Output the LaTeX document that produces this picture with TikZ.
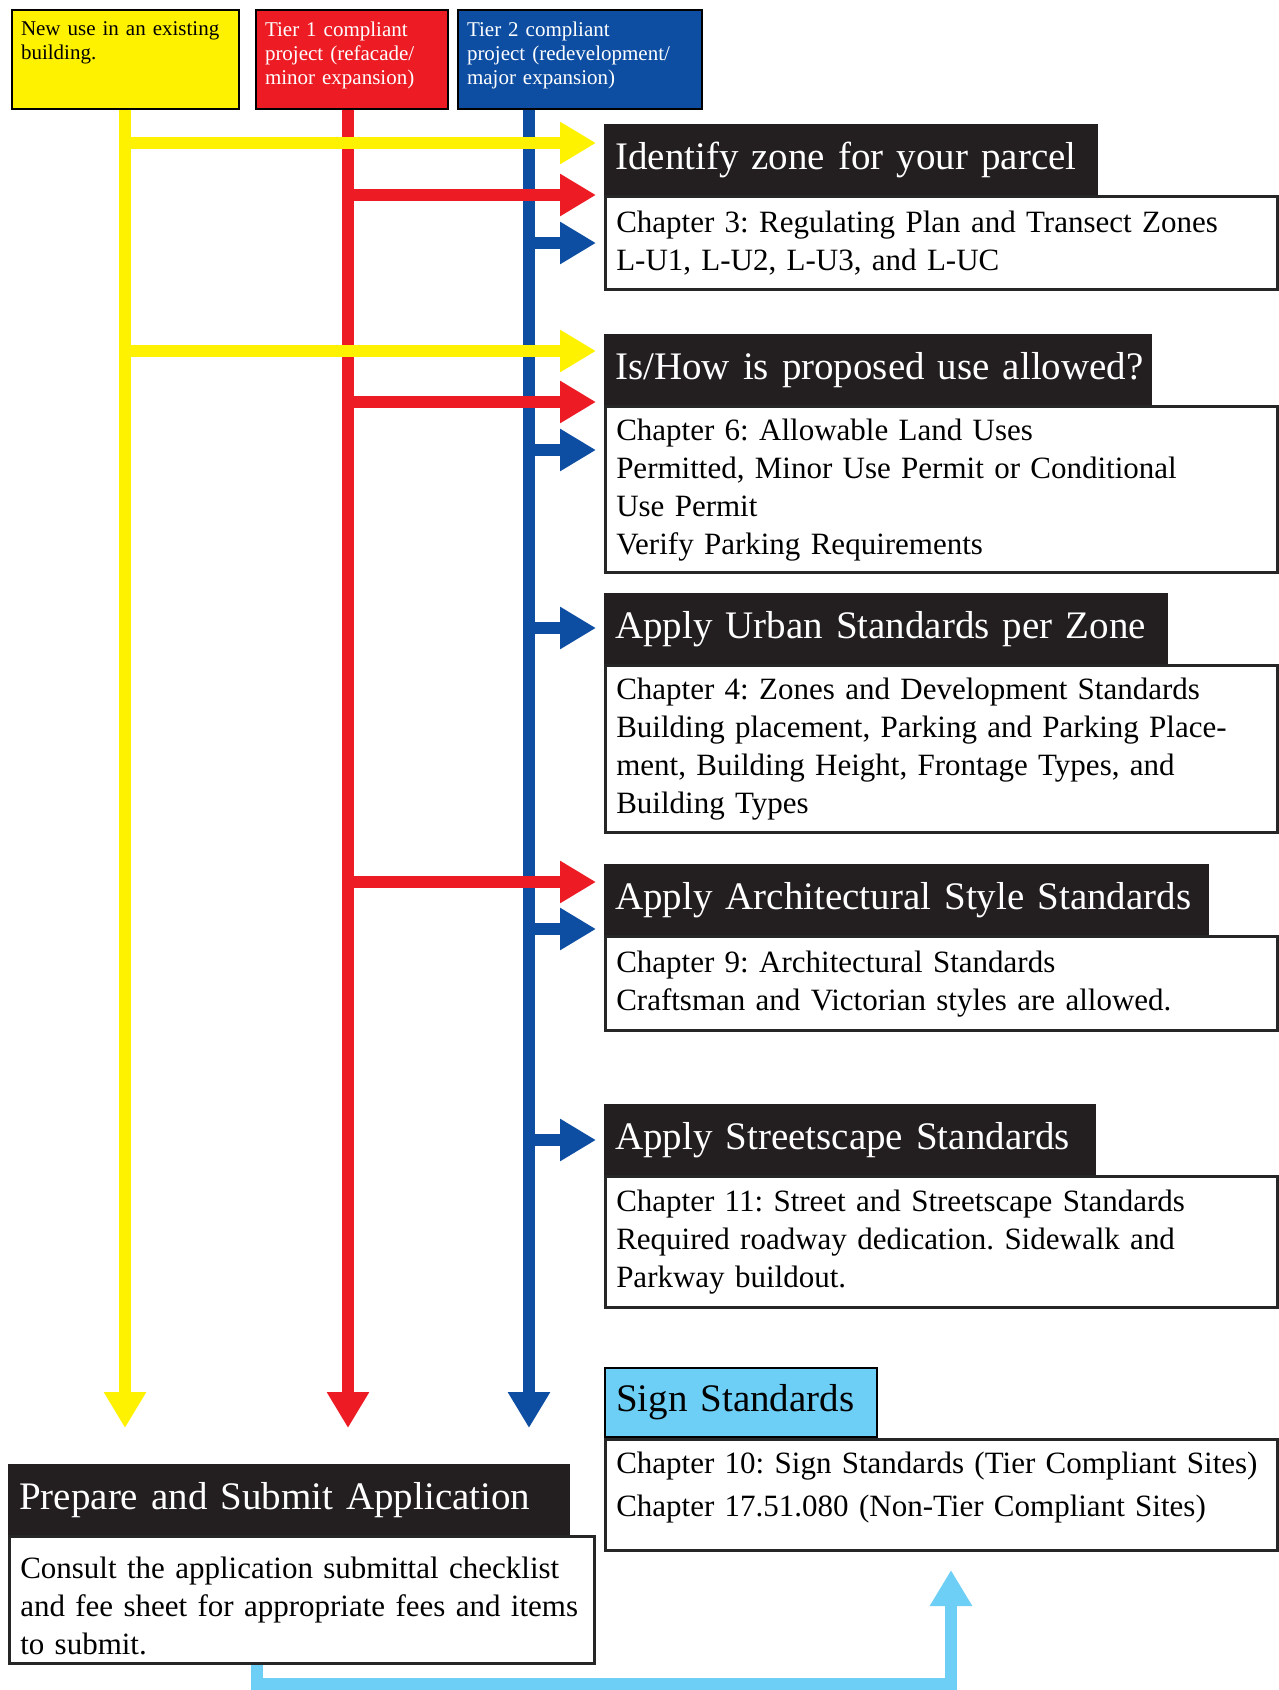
\documentclass[tikz,border=0pt]{standalone}
\usepackage{fontspec}
\setmainfont{Liberation Serif}
\usepackage{xcolor}
\usetikzlibrary{arrows.meta}
\definecolor{tyellow}{HTML}{FFF200}
\definecolor{tred}{HTML}{ED1C24}
\definecolor{tblue}{HTML}{0D4EA2}
\definecolor{tcyan}{HTML}{6DCFF6}
\definecolor{hdrblack}{HTML}{231F20}
\frenchspacing

\begin{document}
\begin{tikzpicture}
    [
    x=1pt,y=-1pt,
    topbox/.style = {draw=black,line width=2pt,anchor=north west,inner xsep=9pt,inner ysep=11.5pt,text width=#1,align=left,font=\fontsize{21}{24}\selectfont},
    hdr/.style = {fill=hdrblack,text=white,anchor=north west,minimum height=71pt,inner xsep=11pt,inner ysep=0pt,text width=#1,align=left,font=\fontsize{39}{44}\selectfont,
      execute at begin node={\hbox\bgroup},execute at end node={\egroup}},
    body/.style = {draw=black!85,line width=2.5pt,fill=white,anchor=north west,inner xsep=11pt,text width=650pt,minimum height=#1,align=left,font=\fontsize{31}{38}\selectfont},
    flow/.style = {line width=12pt,draw=#1,-{Triangle[length=36pt,width=40pt]}}
    ]
\useasboundingbox (0,0) rectangle (1278,1690);

% the three kinds of project
\node[topbox=209pt,fill=tyellow] (newuse) at (11,9) {\parbox[t][76pt][t]{\linewidth}{New use in an existing\\building.}};
\node[topbox=174pt,fill=tred,text=white] (tierone) at (255,9) {\parbox[t][76pt][t]{\linewidth}{Tier 1 compliant\\project (refacade/\\minor expansion)}};
\node[topbox=226pt,fill=tblue,text=white] (tiertwo) at (457,9) {\parbox[t][76pt][t]{\linewidth}{Tier 2 compliant\\project (redevelopment/\\major expansion)}};

% steps
\node[hdr=472pt] (zone) at (604,124) {Identify zone for your parcel};
\node[body=93pt] (zonetxt) at (zone.south west) {Chapter 3: Regulating Plan and Transect Zones\\L-U1, L-U2, L-U3, and L-UC};

\node[hdr=526pt] (use) at (604,334) {Is/How is proposed use allowed?};
\node[body=166pt] (usetxt) at (use.south west) {Chapter 6: Allowable Land Uses\\Permitted, Minor Use Permit or Conditional\\Use Permit\\Verify Parking Requirements};

\node[hdr=542pt] (urban) at (604,593) {Apply Urban Standards per Zone};
\node[body=167pt] (urbantxt) at (urban.south west) {Chapter 4: Zones and Development Standards\\Building placement, Parking and Parking Place-\\ment, Building Height, Frontage Types, and\\Building Types};

\node[hdr=583pt] (arch) at (604,864) {Apply Architectural Style Standards};
\node[body=94pt] (archtxt) at (arch.south west) {Chapter 9: Architectural Standards\\Craftsman and Victorian styles are allowed.};

\node[hdr=470pt] (street) at (604,1104) {Apply Streetscape Standards};
\node[body=131pt] (streettxt) at (street.south west) {Chapter 11: Street and Streetscape Standards\\Required roadway dedication. Sidewalk and\\Parkway buildout.};

\node[hdr=250pt,minimum height=69pt,fill=tcyan,text=black,draw=black,line width=2pt] (sign) at (604,1367) {Sign Standards};
\node[body=111pt,text depth=64pt,font=\fontsize{31}{43}\selectfont] (signtxt) at (sign.south west) {Chapter 10: Sign Standards (Tier Compliant Sites)\\Chapter 17.51.080 (Non-Tier Compliant Sites)};

\node[hdr=540pt] (prep) at (8,1464) {Prepare and Submit Application};
\node[body=127pt,text width=563pt,text height=34pt] (preptxt) at (prep.south west) {Consult the application submittal checklist\\and fee sheet for appropriate fees and items\\to submit.};

% stem ends and arrow tips
\coordinate (ybot) at (125,1428);
\coordinate (rbot) at (348,1428);
\coordinate (bbot) at (529,1428);
\coordinate (y1) at (596,143);
\coordinate (r1) at (596,195);
\coordinate (b1) at (596,243);
\coordinate (y2) at (596,351);
\coordinate (r2) at (596,402);
\coordinate (b2) at (596,450);
\coordinate (b3) at (596,628);
\coordinate (r4) at (596,882);
\coordinate (b4) at (596,929);
\coordinate (b5) at (596,1140);

% blue under red under yellow
\draw[flow=tblue] (tiertwo.south -| bbot) -- (bbot);
\foreach \t in {b1,b2,b3,b4,b5}
  \draw[flow=tblue] (bbot |- \t) -- (\t);

\draw[flow=tred] (tierone.south -| rbot) -- (rbot);
\foreach \t in {r1,r2,r4}
  \draw[flow=tred] (rbot |- \t) -- (\t);

\draw[flow=tyellow] (newuse.south -| ybot) -- (ybot);
\foreach \t in {y1,y2}
  \draw[flow=tyellow] (ybot |- \t) -- (\t);

% back up to the sign standards
\coordinate (cbend) at (257,1684);
\coordinate (signtip) at (951,1570);
\draw[flow=tcyan] (preptxt.south -| cbend) -- (cbend) -| (signtip);

\end{tikzpicture}
\end{document}
